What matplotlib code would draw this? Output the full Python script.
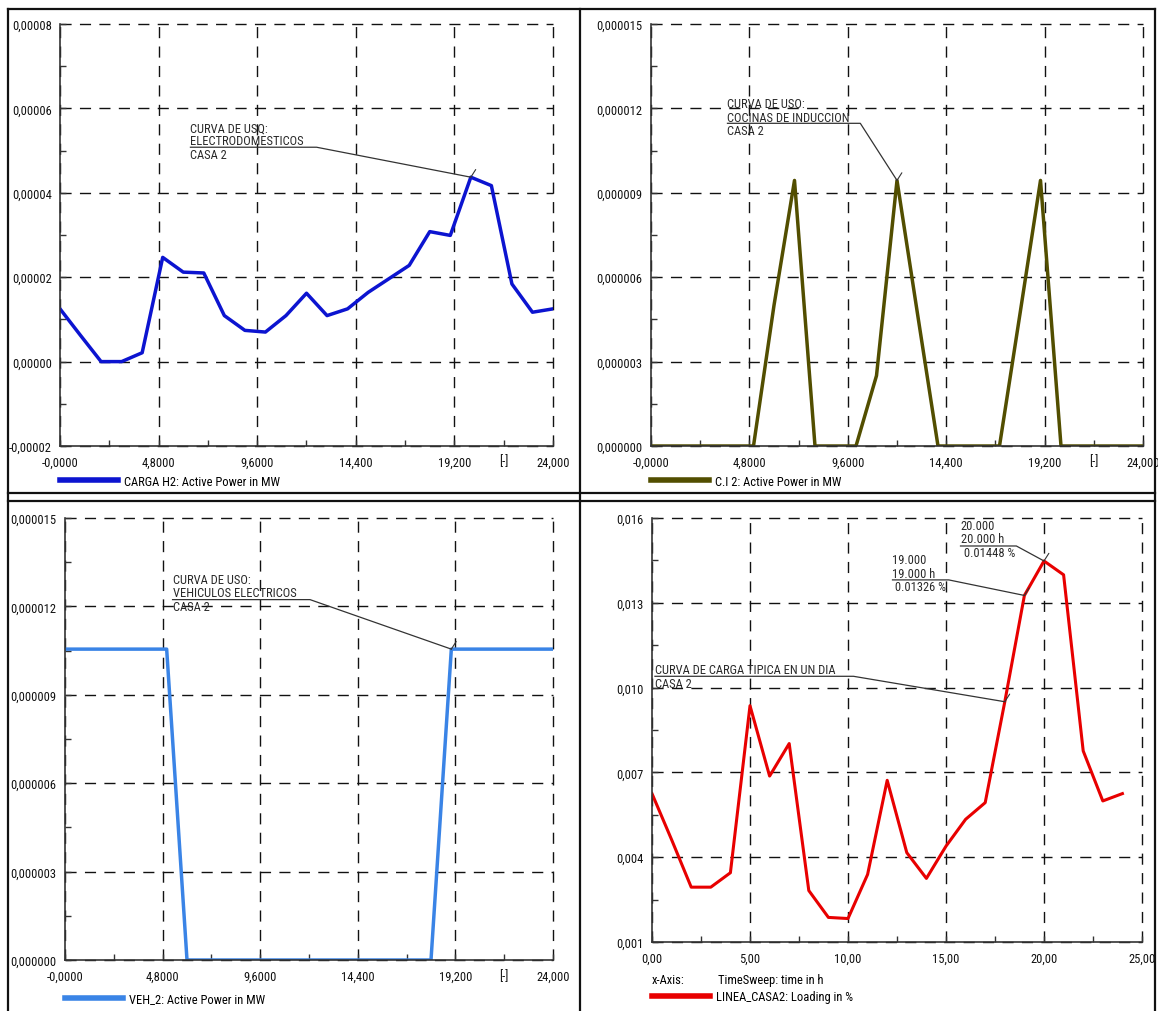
import numpy as np
import matplotlib.pyplot as plt
from matplotlib import font_manager
from matplotlib.lines import Line2D
from matplotlib.ticker import FixedLocator
from matplotlib.transforms import blended_transform_factory

# the screenshot uses a narrow sans; pick the closest narrow face that is installed
fonts = font_manager.fontManager.ttflist
names = {f.name for f in fonts}


def has_condensed(name):
    return any(f.name == name and str(f.stretch) == 'condensed' and f.style == 'normal'
               for f in fonts)


FS = 8.2
stretch = 'normal'
family = 'Liberation Sans'
if 'Liberation Sans Narrow' in names:
    family, FS = 'Liberation Sans Narrow', 9.5
elif 'Arial Narrow' in names:
    family, FS = 'Arial Narrow', 9.5
elif 'Roboto Condensed' in names:
    family, FS = 'Roboto Condensed', 9.0
elif 'Noto Sans Condensed' in names:
    family, FS = 'Noto Sans Condensed', 8.8
elif has_condensed('Noto Sans'):
    family, FS, stretch = 'Noto Sans', 8.8, 'condensed'
elif has_condensed('DejaVu Sans'):
    family, FS, stretch = 'DejaVu Sans', 8.1, 'condensed'
plt.rcParams['font.family'] = [family, 'DejaVu Sans']
plt.rcParams['font.stretch'] = stretch

# hourly values
hours = np.arange(25)
carga_h2 = [1.25e-5, 0.62e-5, 0.0, 0.0, 0.21e-5, 2.47e-5, 2.12e-5, 2.10e-5, 1.09e-5,
            0.74e-5, 0.70e-5, 1.09e-5, 1.62e-5, 1.09e-5, 1.25e-5, 1.64e-5, 1.96e-5,
            2.28e-5, 3.08e-5, 2.99e-5, 4.37e-5, 4.17e-5, 1.84e-5, 1.17e-5, 1.25e-5]
cocina = [0, 0, 0, 0, 0, 0, 0.50e-5, 0.944e-5, 0, 0, 0, 0.25e-5, 0.944e-5, 0.47e-5,
          0, 0, 0, 0, 0.47e-5, 0.944e-5, 0, 0, 0, 0, 0]
vehiculo = [1.055e-5, 1.055e-5, 1.055e-5, 1.055e-5, 1.055e-5, 1.055e-5, 0, 0, 0, 0, 0, 0,
            0, 0, 0, 0, 0, 0, 0, 1.055e-5, 1.055e-5, 1.055e-5, 1.055e-5, 1.055e-5, 1.055e-5]
linea = [0.00625, 0.00462, 0.00294, 0.00294, 0.00345, 0.00936, 0.00687, 0.00802, 0.00282,
         0.00187, 0.00183, 0.00339, 0.00672, 0.00416, 0.00325, 0.00439, 0.00534, 0.00593,
         0.00950, 0.01326, 0.01448, 0.01399, 0.00776, 0.00599, 0.00625]

hx_ticks = [0, 4.8, 9.6, 14.4, 19.2, 24]
hx_labels = ['-0,0000', '4,8000', '9,6000', '14,400', '19,200', '24,000']
y1_ticks = [-0.00002, 0.0, 0.00002, 0.00004, 0.00006, 0.00008]
y1_labels = ['-0,00002', '0,00000', '0,00002', '0,00004', '0,00006', '0,00008']
y2_ticks = [0.0, 0.000003, 0.000006, 0.000009, 0.000012, 0.000015]
y2_labels = ['0,000000', '0,000003', '0,000006', '0,000009', '0,000012', '0,000015']
x4_ticks = [0, 5, 10, 15, 20, 25]
x4_labels = ['0,00', '5,00', '10,00', '15,00', '20,00', '25,00']
y4_ticks = [0.001, 0.004, 0.007, 0.010, 0.013, 0.016]
y4_labels = ['0,001', '0,004', '0,007', '0,010', '0,013', '0,016']

W, H = 1158, 1012
fig = plt.figure(figsize=(W / 100, H / 100), dpi=100)


def box(l, r, t, b):
    return [l / W, 1 - b / H, (r - l) / W, (b - t) / H]


def setup(ax, xt, xl, yt, yl, unit_mark=True):
    ax.set_xlim(xt[0], xt[-1])
    ax.set_ylim(yt[0], yt[-1])
    ax.set_xticks(xt)
    ax.set_xticklabels(xl)
    ax.set_yticks(yt)
    ax.set_yticklabels(yl)
    ax.xaxis.set_minor_locator(FixedLocator([(a + b) / 2 for a, b in zip(xt[:-1], xt[1:])]))
    ax.yaxis.set_minor_locator(FixedLocator([(a + b) / 2 for a, b in zip(yt[:-1], yt[1:])]))
    ax.tick_params(which='both', direction='in', length=4, width=1, color='#333333',
                   labelsize=FS, labelcolor='#111111')
    ax.tick_params(axis='x', pad=7)
    ax.tick_params(axis='y', pad=6)
    ax.grid(which='major', color='#111111', linestyle=(0, (8, 6)), linewidth=1.0, clip_on=False)
    for s in ['top', 'right']:
        ax.spines[s].set_visible(False)
    for s in ['left', 'bottom']:
        ax.spines[s].set_color('#333333')
        ax.spines[s].set_linewidth(1.2)
    if unit_mark:
        tr = blended_transform_factory(ax.transData, ax.transAxes)
        ax.text((xt[-2] + xt[-1]) / 2, -0.02, '[-]', transform=tr, ha='center', va='top',
                fontsize=FS, color='#111111')


def callout(ax, x, ys, lines, y_line, x_line, target):
    for yy, txt in zip(ys, lines):
        ax.text(x, yy, txt, fontsize=FS, color='#2a2a2a', va='center', ha='left')
    ax.plot([x, x_line, target[0]], [y_line, y_line, target[1]], color='#333333',
            linewidth=0.9, clip_on=False)
    # little cursor stroke at the picked point
    ax.annotate('', xy=target, xytext=(3.5, 5.5), textcoords='offset points',
                arrowprops=dict(arrowstyle='-', color='#333333', lw=0.8,
                                shrinkA=0, shrinkB=0))


def legend(ax, color, label, y_off):
    h = Line2D([], [], color=color, linewidth=4)
    ax.legend([h], [label], loc='center left', bbox_to_anchor=(0, y_off), frameon=False,
              borderpad=0, borderaxespad=0, handlelength=58 / (FS * 100 / 72),
              handletextpad=0.5, prop={'size': FS})


# top left: electrodomesticos
ax1 = fig.add_axes(box(60, 553, 25, 447))
ax1.plot(hours, carga_h2, color='#0c14d0', linewidth=2.5)
setup(ax1, hx_ticks, hx_labels, y1_ticks, y1_labels)
callout(ax1, 6.35, [5.53e-5, 5.24e-5, 4.91e-5],
        ['CURVA DE USQ:', 'ELECTRODOMESTICOS', 'CASA 2'],
        5.08e-5, 12.49, (hours[20], carga_h2[20]))
legend(ax1, '#0c14d0', 'CARGA H2: Active Power in MW', -35 / 422)

# top right: cocinas de induccion
ax2 = fig.add_axes(box(651, 1143, 25, 447))
ax2.plot(hours, cocina, color='#524e00', linewidth=2.5)
setup(ax2, hx_ticks, hx_labels, y2_ticks, y2_labels)
callout(ax2, 3.73, [1.216e-5, 1.168e-5, 1.121e-5],
        ['CURVA DE USO:', 'COCINAS DE INDUCCION', 'CASA 2'],
        1.147e-5, 10.21, (hours[12], cocina[12]))
legend(ax2, '#524e00', 'C.I 2: Active Power in MW', -35 / 422)

# bottom left: vehiculos electricos
ax3 = fig.add_axes(box(65, 553, 519, 961))
ax3.plot(hours, vehiculo, color='#3a84e6', linewidth=2.5)
setup(ax3, hx_ticks, hx_labels, y2_ticks, y2_labels)
callout(ax3, 5.29, [1.291e-5, 1.246e-5, 1.198e-5],
        ['CURVA DE USO:', 'VEHICULOS ELECTRICOS', 'CASA 2'],
        1.223e-5, 12.05, (hours[19], vehiculo[19]))
legend(ax3, '#3a84e6', 'VEH_2: Active Power in MW', -39 / 442)

# bottom right: loading of the line
ax4 = fig.add_axes(box(652, 1142, 519, 943))
ax4.plot(hours, linea, color='#e80000', linewidth=2.2)
setup(ax4, x4_ticks, x4_labels, y4_ticks, y4_labels, unit_mark=False)
callout(ax4, 0.15, [0.01063, 0.01013],
        ['CURVA DE CARGA TIPICA EN UN DIA', 'CASA 2'],
        0.0104, 10.28, (hours[18], linea[18]))
callout(ax4, 12.27, [0.01453, 0.01404, 0.01359],
        ['19.000', '19.000 h', ' 0.01326 %'],
        0.01381, 15.14, (hours[19], linea[19]))
callout(ax4, 15.74, [0.01572, 0.01527, 0.01477],
        ['20.000', '20.000 h', ' 0.01448 %'],
        0.01501, 18.59, (hours[20], linea[20]))
ax4.text(0, -38 / 424, 'x-Axis:', transform=ax4.transAxes, fontsize=FS, va='center')
ax4.text(66 / 490, -38 / 424, 'TimeSweep: time in h', transform=ax4.transAxes,
         fontsize=FS, va='center')
legend(ax4, '#e80000', 'LINEA_CASA2: Loading in %', -55 / 424)

# panel frames
frame = [((8, 1155), (10, 10)), ((8, 8), (10, 1012)), ((580, 580), (10, 1012)),
         ((1155, 1155), (10, 1012)), ((8, 1155), (494, 494)), ((8, 1155), (502, 502))]
for xs, ys in frame:
    fig.add_artist(Line2D([v / W for v in xs], [1 - v / H for v in ys],
                          color='#111111', linewidth=1.6))

fig.savefig('out.png', dpi=100)
